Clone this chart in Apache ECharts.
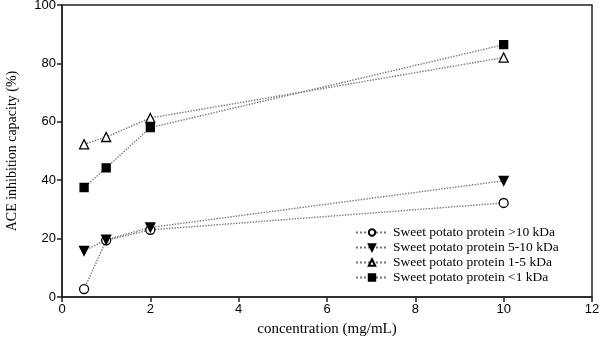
<!DOCTYPE html>
<html>
<head>
<meta charset="utf-8">
<script src="https://cdn.jsdelivr.net/npm/echarts@6/dist/echarts.min.js"></script>
<style>
html, body { margin: 0; padding: 0; background: #fff; }
#chart { width: 600px; height: 346px; }
</style>
</head>
<body>
<div id="chart"></div>
<script>
var concentration = [0.5, 1, 2, 10];
var names = [
    'Sweet potato protein >10 kDa',
    'Sweet potato protein 5-10 kDa',
    'Sweet potato protein 1-5 kDa',
    'Sweet potato protein <1 kDa'
];
var over10 = [2.7, 19.4, 23.0, 32.2];
var from5to10 = [15.8, 19.6, 23.8, 39.8];
var from1to5 = [52.3, 54.8, 61.3, 82.0];
var under1 = [37.5, 44.2, 58.0, 86.4];
var xTicks = [0, 2, 4, 6, 8, 10, 12];
var yTicks = [0, 20, 40, 60, 80, 100];

var pairs = function(ys){
    var out = [];
    for (var i = 0; i < concentration.length; i++) {
        out.push([concentration[i], ys[i]]);
    }
    return out;
}

var makeSeries = function(name, ys, symbol, fill, rotate){
    return {
        name: name,
        type: 'line',
        data: pairs(ys),
        symbol: symbol,
        symbolSize: symbol == 'rect' ? 8 : 9,
        symbolRotate: rotate || 0,
        showAllSymbol: true,
        lineStyle: { color: '#777', width: 1.4, type: 'dotted' },
        itemStyle: { color: fill, borderColor: '#000', borderWidth: 1.3 },
        emphasis: { disabled: true },
        z: 3
    };
}

var sans = 'Liberation Sans';
var serif = 'Liberation Serif';

var myChart = echarts.init(document.getElementById('chart'));
var option = {
    animation: false,
    backgroundColor: '#fff',
    grid: {
        left: 62, right: 8, top: 5, bottom: 49,
        outerBoundsMode: 'none',
        containLabel: false,
        show: true, borderColor: '#222', borderWidth: 1.5
    },
    legend: {
        orient: 'vertical',
        left: 350,
        top: 220,
        itemWidth: 32,
        itemHeight: 8,
        itemGap: 0,
        selectedMode: false,
        textStyle: { fontFamily: serif, fontSize: 13.5, color: '#000', lineHeight: 15 },
        data: names
    },
    xAxis: {
        type: 'value',
        min: 0, max: 12, interval: 2,
        name: 'concentration (mg/mL)',
        nameLocation: 'middle',
        nameGap: 25,
        nameTextStyle: { fontFamily: serif, fontSize: 15, color: '#000' },
        axisLine: { show: true, lineStyle: { color: '#222', width: 1.5 } },
        axisTick: { show: true, inside: false, length: 5, lineStyle: { color: '#222', width: 1.5 } },
        axisLabel: { fontFamily: sans, fontSize: 13, color: '#000', margin: 6 },
        splitLine: { show: false }
    },
    yAxis: {
        type: 'value',
        min: 0, max: 100, interval: 20,
        name: 'ACE inhibition capacity (%)',
        nameLocation: 'middle',
        nameGap: 43,
        nameTextStyle: { fontFamily: serif, fontSize: 14, color: '#000' },
        axisLine: { show: true, lineStyle: { color: '#222', width: 1.5 } },
        axisTick: { show: true, inside: false, length: 5, lineStyle: { color: '#222', width: 1.5 } },
        axisLabel: { fontFamily: sans, fontSize: 13, color: '#000', margin: 6 },
        splitLine: { show: false }
    },
    series: [
        makeSeries(names[0], over10, 'circle', '#fff'),
        makeSeries(names[1], from5to10, 'triangle', '#000', 180),
        makeSeries(names[2], from1to5, 'triangle', '#fff'),
        makeSeries(names[3], under1, 'rect', '#000')
    ]
};
myChart.setOption(option);
</script>
</body>
</html>
